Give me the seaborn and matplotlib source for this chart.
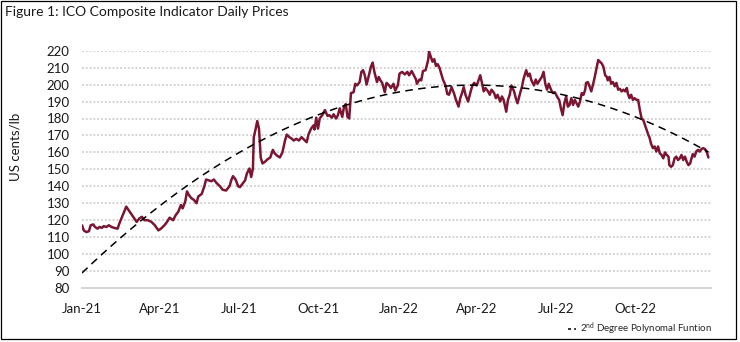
import numpy as np
import pandas as pd
import matplotlib
matplotlib.use("Agg")
import matplotlib.pyplot as plt
import matplotlib.dates as mdates
from matplotlib.lines import Line2D
from matplotlib.patches import Rectangle
import seaborn as sns

# ---- data ----
start_date = "2021-01-01"
day_offsets = [
    0, 2, 5, 8, 10, 13, 15, 18, 20, 23, 25, 28, 31, 34, 37, 41, 43, 47, 51, 55, 59, 63, 66, 69, 72, 76, 80, 84, 88,
    91, 95, 98, 101, 105, 108, 111, 114, 116, 119, 121, 123, 126, 129, 132, 134, 138, 141, 143, 146, 149, 152, 155,
    159, 162, 166, 170, 172, 174, 177, 180,
    182, 185, 188, 190, 193, 195, 197, 198, 200, 202, 204, 206, 208, 211, 214, 217, 220, 222, 225, 228, 231, 234,
    236, 239, 242, 244, 247, 250, 253, 256, 259, 261, 264, 267, 268, 270, 272, 274, 277, 280, 283, 285, 288, 290,
    293, 295, 297, 300, 302, 304, 306, 308, 310, 313, 315, 317, 320, 322, 324, 326, 328, 330, 333, 335, 337, 340,
    342, 344, 346, 349, 351, 354, 356, 359, 361, 364,
    366, 369, 372, 375, 377, 380, 383, 385, 386, 389, 391, 393, 396, 399, 400, 402, 404, 406, 408, 410, 412, 414,
    416, 419, 421, 423, 426, 429, 431, 434, 436, 438, 440, 442, 445, 448, 450, 452, 455, 457, 459, 461, 463, 465,
    468, 470, 472, 475, 477, 479, 482, 484, 486, 489, 491, 493, 495, 498, 500, 502, 505, 507, 509, 512, 514, 516,
    518, 521, 523, 525, 528, 530, 532, 534, 536, 538, 541, 543, 545, 548, 550,
    552, 554, 556, 558, 560, 562, 564, 566, 568, 570, 572, 574, 576, 578, 580, 581, 583, 585, 587, 589, 591, 593,
    595, 597, 599, 601, 603, 605, 606, 608, 610, 612, 614, 616, 618, 620, 622, 624, 626, 628, 629, 631, 633, 635,
    637, 639, 641, 643, 645, 647, 649, 651, 653, 654, 656, 658, 660, 662, 664, 666, 668, 670, 672, 674, 676, 677,
    679, 681, 683, 685, 687, 689, 691, 693, 695, 697, 699, 701, 702, 704, 706, 708, 710, 712, 714, 716, 718, 720, 722,
]
prices = [
    117, 114, 113, 113.5, 117, 117.5, 116, 115, 116, 115.5, 116.5, 116, 117, 116, 115.5, 115, 118, 123, 128, 125,
    122, 119, 121, 122, 120, 120, 119, 117, 114, 115, 117, 119, 121.5, 120, 123, 125, 129, 127, 131, 137, 135, 133,
    132, 130, 134, 135.5, 140, 144, 143.5, 143, 144, 142, 140, 138, 137.5, 140, 143.5, 146, 144, 140,
    139.5, 141.5, 143.5, 147.5, 150.5, 145.5, 150.5, 169, 173.5, 178.5, 174, 157, 153.5, 154.5, 156, 157, 161.5,
    159.5, 158, 157, 160, 167, 170.5, 169, 168, 167, 168, 167, 169, 167.5, 166, 170.5, 174, 176, 173.5, 180.5, 174,
    180, 182, 185, 181.5, 182, 180.5, 182.5, 180, 182, 186, 181, 187, 188.5, 181, 180, 195, 195.5, 200.5, 199.5,
    201.5, 207.5, 208.5, 205.5, 200, 204, 210.5, 213, 207.5, 201.5, 204.5, 202.5, 201, 195.5, 201, 199.5, 198,
    200.5, 196.5, 199.5,
    206.5, 207.5, 206, 207.5, 205.5, 208, 205, 203, 200.5, 203, 202.5, 208, 208.5, 214.5, 219.5, 216.5, 213.5, 215,
    211, 212, 210, 206.5, 203, 199.5, 194.5, 194, 198.5, 194.5, 191, 187, 192, 195, 198.5, 194, 190, 196, 199.5, 201,
    199.5, 202.5, 205.5, 201, 196, 198, 196, 194, 197, 195, 192, 194, 190, 193, 191, 184, 191, 194, 199.5, 196, 192,
    189, 195, 198.5, 203.5, 208.5, 205, 206.5, 202.5, 199.5, 203, 200.5, 203, 204.5, 207.5, 200.5, 197, 200.5,
    196.5, 195, 195.5, 192.5, 191,
    186, 182, 189, 193, 187, 188, 192, 188, 191, 189, 187, 190, 195, 194, 197, 201, 201.5, 199, 196, 200, 204.5,
    209.5, 214.5, 213.5, 212.5, 210.5, 205.5, 204.5, 202.5, 204.5, 200.5, 201.5, 199, 201, 197, 197.5, 196, 197,
    196, 198, 195, 192, 194, 191, 192, 191, 191, 185, 180, 179, 176, 173, 170, 169, 165, 162.5, 163.5, 160.5, 163.5,
    159.5, 158.5, 156.5, 160, 158.5, 157.5, 152.5, 151.5, 152.5, 156.5, 157.5, 155.5, 156.5, 158.5, 155.5, 157.5,
    154.5, 152.5, 153.5, 155.5, 159, 157.5, 160.5, 161.5, 160.5, 162, 162.5, 162, 160.5, 157,
]
y_ticks = list(range(80, 230, 10))
title_text = "Figure 1: ICO Composite Indicator Daily Prices"
y_label = "US cents/lb"
legend_label = "2$^{nd}$ Degree Polynomal Funtion"

# ---- style ----
sns.set_theme(style="white")
plt.rcParams["font.family"] = ["Lato", "DejaVu Sans"]
plt.rcParams["mathtext.default"] = "regular"

W, H = 740, 342
fig = plt.figure(figsize=(W / 100, H / 100), dpi=100)
ax_left, ax_right, ax_top, ax_bottom = 82, 711, 50.7, 288
ax = fig.add_axes([ax_left / W, (H - ax_bottom) / H, (ax_right - ax_left) / W, (ax_bottom - ax_top) / H])

df = pd.DataFrame({
    "date": pd.Timestamp(start_date) + pd.to_timedelta(day_offsets, unit="D"),
    "price": prices,
})
line_color = "#7a1632"
sns.lineplot(data=df, x="date", y="price", color=line_color, lw=1.8, ax=ax)

# 2nd degree polynomial trend fitted to the series
xnum = mdates.date2num(df["date"])
sns.regplot(x=xnum, y=df["price"].to_numpy(), order=2, scatter=False, ci=None, truncate=True,
            ax=ax, line_kws=dict(color="black", lw=1.1, ls=(0, (5, 3.5))))

x0 = pd.Timestamp(start_date)
ax.set_xlim(x0, x0 + pd.Timedelta(days=725))
ax.set_ylim(80, 220)
ax.set_yticks(y_ticks)
ax.xaxis.set_major_locator(mdates.MonthLocator(bymonth=[1, 4, 7, 10]))
ax.xaxis.set_major_formatter(mdates.DateFormatter("%b-%y"))

ax.yaxis.grid(True, color="#c6c6c6", ls=(0, (1.2, 1.3)), lw=1.1)
ax.xaxis.grid(False)
for s in ["top", "right", "left"]:
    ax.spines[s].set_visible(False)
ax.spines["bottom"].set_color("#d4d4d4")
ax.spines["bottom"].set_linewidth(1.4)
ax.tick_params(axis="both", length=0, labelsize=9.5, colors="#1a1a1a")
ax.tick_params(axis="y", pad=9)
ax.tick_params(axis="x", pad=11)
ax.set_xlabel("")
ax.set_ylabel(y_label, fontsize=9.5, color="#1a1a1a")
ax.yaxis.set_label_coords(-0.096, 0.594)

fig.text(5 / W, 1 - 12 / H, title_text, fontsize=10, ha="left", va="center", color="#1a1a1a")

handle = Line2D([], [], color="black", lw=1.1, ls=(0, (2, 2)))
fig.legend([handle], [legend_label], loc="center right", bbox_to_anchor=(716 / W, 1 - 329 / H),
           frameon=False, fontsize=7, handlelength=0.9, handletextpad=0.4, borderaxespad=0)

fig.add_artist(Rectangle((0.5 / 100, 3 / 100), 735 / 100, 338.5 / 100, transform=fig.dpi_scale_trans,
                         fill=False, edgecolor="black", lw=0.9))

fig.savefig("out.png", dpi=100)
